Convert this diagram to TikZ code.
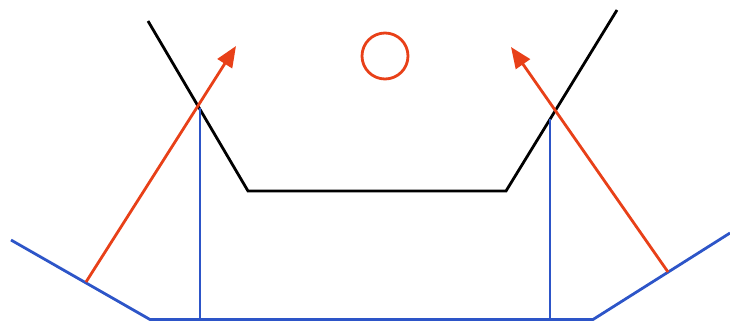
\documentclass[tikz,border=0pt]{standalone}
\usetikzlibrary{arrows.meta}
\definecolor{myred}{RGB}{232,64,24}
\definecolor{myblue}{RGB}{45,85,200}
\begin{document}
\begin{tikzpicture}[x=1pt,y=-1pt,
  ln/.style={line width=2.8pt,line join=miter},
  redarrow/.style={ln,myred,-{Triangle[length=21pt,width=17pt]}}]
\useasboundingbox (0,0) rectangle (730,322);
% black cup
\coordinate (k1) at (148,21);
\coordinate (k2) at (248,191);
\coordinate (k3) at (506,191);
\coordinate (k4) at (617,10);
\draw[ln,black] (k1) -- (k2) -- (k3) -- (k4);
% blue base
\coordinate (b1) at (11,240);
\coordinate (b2) at (150,319.5);
\coordinate (b3) at (593,319.5);
\coordinate (b4) at (730,233);
\draw[ln,myblue] (b1) -- (b2) -- (b3) -- (b4);
% verticals
\coordinate (v1t) at (200,108);
\coordinate (v1b) at (200,319.5);
\coordinate (v2t) at (550,119);
\coordinate (v2b) at (550,319.5);
\draw[ln,myblue] (v1t) -- (v1b);
\draw[ln,myblue] (v2t) -- (v2b);
% red arrows
\coordinate (r1s) at (86,282);
\coordinate (r1e) at (236,46);
\coordinate (r2s) at (668,272);
\coordinate (r2e) at (511,47);
\draw[redarrow] (r1s) -- (r1e);
\draw[redarrow] (r2s) -- (r2e);
% circle
\node[draw=myred,line width=2.8pt,circle,minimum size=46pt,inner sep=0pt] (c) at (385,56) {};
\end{tikzpicture}
\end{document}
